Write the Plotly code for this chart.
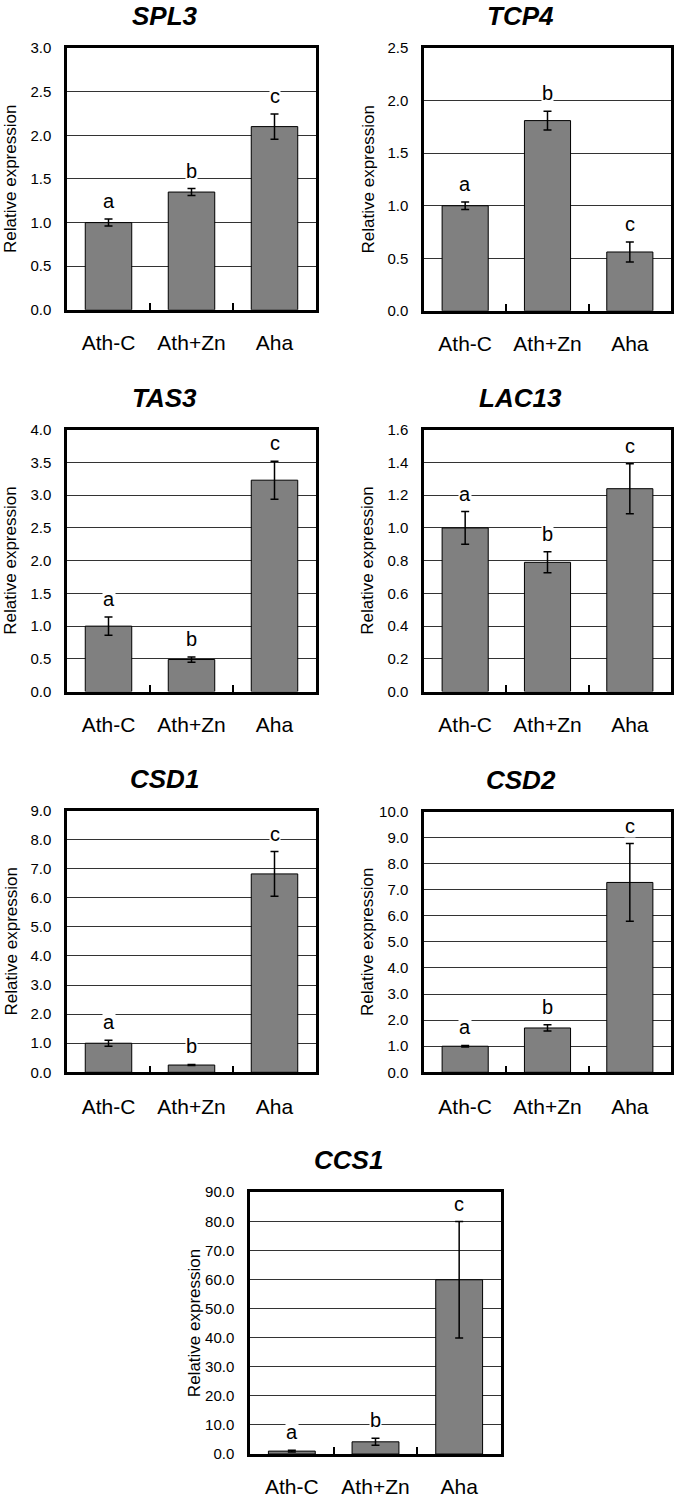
import plotly.graph_objects as go

# the page is captured 1516px tall with the figure 8px down and then scaled
# to 1500, so reference pixels are mapped through that before use
PAGE_W, PAGE_H = 674, 1500
CAPTURE_H = 1516
Y_OFF = 8
W, H = PAGE_W, CAPTURE_H - Y_OFF
FONT = 'Arial, Liberation Sans, Helvetica, sans-serif'

GROUPS = ['Ath-C', 'Ath+Zn', 'Aha']
LETTERS = ['a', 'b', 'c']
GENES = ['SPL3', 'TCP4', 'TAS3', 'LAC13', 'CSD1', 'CSD2', 'CCS1']

# mean relative expression and error per gene
spl3 = [1.00, 1.35, 2.10]
spl3_err = [0.04, 0.04, 0.145]
tcp4 = [1.00, 1.81, 0.56]
tcp4_err = [0.035, 0.09, 0.095]
tas3 = [1.00, 0.49, 3.23]
tas3_err = [0.14, 0.04, 0.29]
lac13 = [1.00, 0.79, 1.24]
lac13_err = [0.10, 0.064, 0.153]
csd1 = [1.00, 0.25, 6.82]
csd1_err = [0.10, 0.02, 0.77]
csd2 = [1.00, 1.70, 7.28]
csd2_err = [0.03, 0.12, 1.49]
ccs1 = [1.00, 4.2, 59.9]
ccs1_err = [0.3, 1.2, 20.0]

values = [spl3, tcp4, tas3, lac13, csd1, csd2, ccs1]
errors = [spl3_err, tcp4_err, tas3_err, lac13_err, csd1_err, csd2_err, ccs1_err]

y_max = [3.0, 2.5, 4.0, 1.6, 9.0, 10.0, 90.0]
y_step = [0.5, 0.5, 0.5, 0.2, 1.0, 1.0, 10.0]

# plot boxes in reference pixels: left, right, top, bottom
boxes = [
    (67, 316, 47, 309),
    (424, 671, 47, 310),
    (67, 316, 429, 691),
    (424, 671, 429, 691),
    (67, 316, 810, 1072),
    (424, 671, 811, 1072),
    (250, 501, 1192, 1454),
]
label_standoff = [12, 12, 12, 12, 14, 14, 12]


def px(x):
    return min(max(x / W, 0), 1)


def py(y):
    fy = y * CAPTURE_H / PAGE_H - Y_OFF
    return min(max(1 - fy / H, 0), 1)


fig = go.Figure()
annotations = []
layout = {}

for i, gene in enumerate(GENES):
    n = i + 1
    sfx = '' if n == 1 else str(n)
    l, r, t, b = boxes[i]

    fig.add_trace(go.Bar(
        x=GROUPS, y=values[i], width=0.56,
        error_y=dict(type='data', array=errors[i], color='black', thickness=1.5, width=4),
        marker=dict(color='#808080', line=dict(color='black', width=1)),
        xaxis='x' + sfx, yaxis='y' + sfx, showlegend=False, hoverinfo='x+y'
    ))

    layout['xaxis' + sfx] = dict(
        domain=[px(l), px(r)], anchor='y' + sfx,
        showline=True, linecolor='black', linewidth=2.5, mirror=True,
        ticks='inside', tickson='boundaries', ticklen=7, tickwidth=1.5, tickcolor='black',
        tickfont=dict(size=21, color='black'), ticklabelstandoff=label_standoff[i],
        showgrid=False, fixedrange=True
    )
    layout['yaxis' + sfx] = dict(
        domain=[py(b), py(t)], anchor='x' + sfx,
        range=[0, y_max[i]], dtick=y_step[i], tick0=0, tickformat='.1f',
        showline=True, linecolor='black', linewidth=2.5, mirror=True,
        ticks='', showgrid=True, gridcolor='#333', gridwidth=1, zeroline=False,
        tickfont=dict(size=15, color='black'), ticklabelstandoff=10, fixedrange=True
    )

    # significance letters above the error bars
    for g, v, e, letter in zip(GROUPS, values[i], errors[i], LETTERS):
        annotations.append(dict(
            x=g, y=v + e, xref='x' + sfx, yref='y' + sfx, text=letter,
            showarrow=False, yanchor='middle', yshift=18,
            font=dict(size=20, color='black'), bgcolor='white', borderpad=0
        ))

    # gene title
    annotations.append(dict(
        x=px((l + r) / 2 - 27), y=py(t - 32), xref='paper', yref='paper',
        text='<b><i>' + gene + '</i></b>', showarrow=False,
        font=dict(size=26, color='black'), xanchor='center', yanchor='middle'
    ))

    # y axis title
    annotations.append(dict(
        x=px(l - 56), y=py((t + b) / 2), xref='paper', yref='paper',
        text='Relative expression', textangle=-90, showarrow=False,
        font=dict(size=17, color='black'), xanchor='center', yanchor='middle'
    ))

fig.update_layout(
    width=W, height=H,
    margin=dict(l=0, r=0, t=0, b=0),
    paper_bgcolor='white', plot_bgcolor='white',
    font=dict(family=FONT, color='black'),
    annotations=annotations,
    showlegend=False,
    **layout
)

fig.write_html('out.html', config={'displayModeBar': False},
               post_script="document.body.style.margin='0';")
